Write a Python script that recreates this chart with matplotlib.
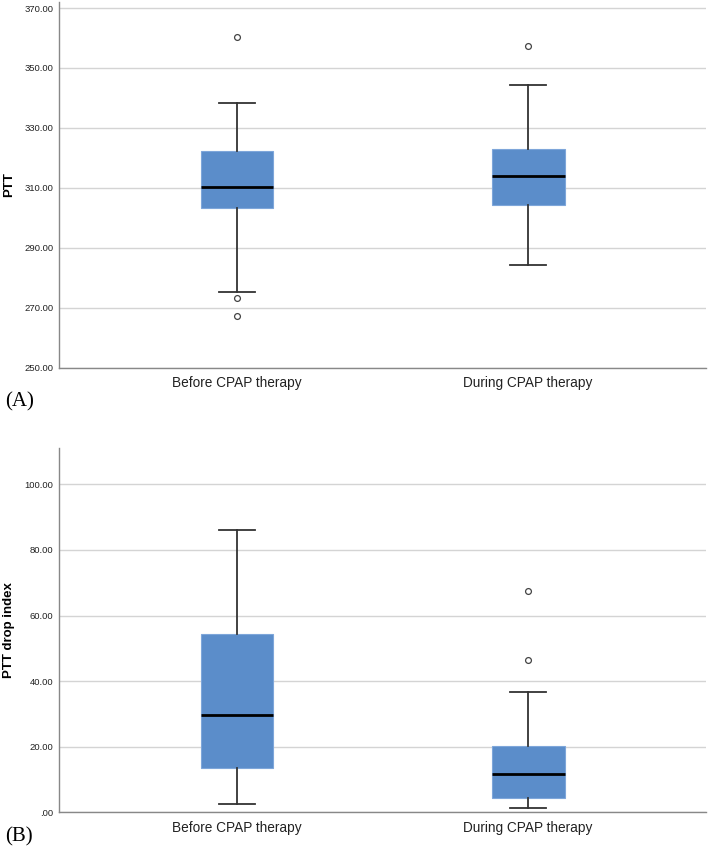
import matplotlib
matplotlib.use("Agg")
from matplotlib import pyplot as plt

groups = ["Before CPAP therapy", "During CPAP therapy"]

# panel A: PTT  (whisker low, Q1, median, Q3, whisker high)
ptt_whislo = [275.3, 284.3]
ptt_q1 = [303.4, 304.4]
ptt_med = [310.2, 313.8]
ptt_q3 = [322.2, 323.1]
ptt_whishi = [338.2, 344.2]
ptt_fliers = [[360.2, 273.4, 267.4], [357.2]]

# panel B: PTT drop index
drop_whislo = [2.5, 1.2]
drop_q1 = [13.6, 4.5]
drop_med = [29.7, 11.8]
drop_q3 = [54.3, 20.2]
drop_whishi = [86.1, 36.6]
drop_fliers = [[], [67.5, 46.5]]

ptt_ticks = [250, 270, 290, 310, 330, 350, 370]
drop_ticks = [0, 20, 40, 60, 80, 100]

box_color = "#5b8dca"
line_color = "#333333"


def make_stats(lo, q1, med, q3, hi, fliers):
    stats = []
    for i in range(len(groups)):
        stats.append({"whislo": lo[i], "q1": q1[i], "med": med[i], "q3": q3[i],
                      "whishi": hi[i], "fliers": fliers[i], "label": groups[i]})
    return stats


def tick_fmt(v):
    s = "%.2f" % v
    if s.startswith("0."):
        s = s[1:]
    return s


def draw_panel(ax, stats, ticks, ylim, ylabel):
    ax.set_axisbelow(True)
    ax.yaxis.grid(True, color="#d4d4d4", linewidth=1.0)
    ax.bxp(stats, positions=[1, 2], widths=0.25, capwidths=0.125, patch_artist=True,
           boxprops=dict(facecolor=box_color, edgecolor="#7ea6da", linewidth=0.8),
           medianprops=dict(color="black", linewidth=2.0),
           whiskerprops=dict(color=line_color, linewidth=1.3),
           capprops=dict(color=line_color, linewidth=1.3),
           flierprops=dict(marker="o", markersize=4.2, markerfacecolor="white",
                           markeredgecolor="#444444", markeredgewidth=0.9))
    ax.set_xlim(0.389, 2.611)
    ax.set_ylim(*ylim)
    ax.set_yticks(ticks)
    ax.set_yticklabels([tick_fmt(t) for t in ticks], fontsize=6.8, color="#222222")
    ax.set_xticks([1, 2])
    ax.set_xticklabels(groups, fontsize=9.8, color="#222222")
    ax.tick_params(axis="both", length=0)
    ax.tick_params(axis="x", pad=6)
    ax.tick_params(axis="y", pad=4)
    for side in ["top", "right"]:
        ax.spines[side].set_visible(False)
    for side in ["left", "bottom"]:
        ax.spines[side].set_color("#888888")
        ax.spines[side].set_linewidth(1.0)
    ax.set_ylabel(ylabel, fontsize=9.5, fontweight="bold")
    ax.yaxis.set_label_coords(-0.068, 0.5)


plt.rcParams["font.family"] = ["Liberation Sans", "DejaVu Sans"]
fig = plt.figure(figsize=(7.09, 8.48), dpi=100)

ax1 = fig.add_axes([0.0832, 0.5664, 0.9126, 0.4312])
draw_panel(ax1, make_stats(ptt_whislo, ptt_q1, ptt_med, ptt_q3, ptt_whishi, ptt_fliers),
           ptt_ticks, (250, 372), "PTT")

ax2 = fig.add_axes([0.0832, 0.0421, 0.9126, 0.4292])
draw_panel(ax2, make_stats(drop_whislo, drop_q1, drop_med, drop_q3, drop_whishi, drop_fliers),
           drop_ticks, (0, 111), "PTT drop index")

fig.text(0.007, 1 - 402 / 848, "(A)", fontsize=15, family="Liberation Serif", va="center")
fig.text(0.007, 1 - 837 / 848, "(B)", fontsize=15, family="Liberation Serif", va="center")

fig.savefig("out.png", dpi=100)
